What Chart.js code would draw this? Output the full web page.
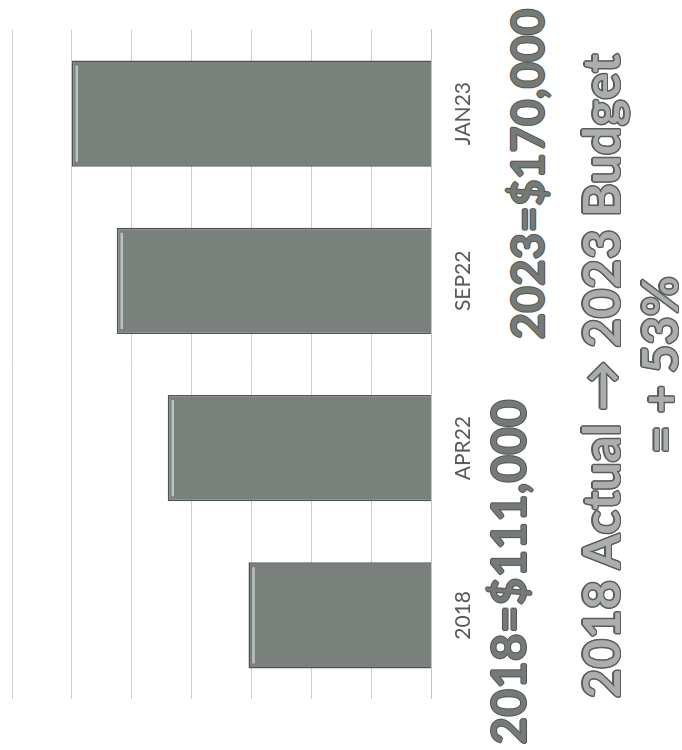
<!DOCTYPE html>
<html>
<head>
<meta charset="utf-8">
<script src="https://cdn.jsdelivr.net/npm/chart.js@4"></script>
<style>
  html, body { margin: 0; padding: 0; background: #fff; width: 682px; height: 750px; overflow: hidden; }
  /* the scan is turned a quarter turn, so draw upright and rotate the whole sheet */
  #sheet { position: absolute; left: 0; top: 0; width: 750px; height: 682px;
           transform-origin: 0 0; transform: translateY(750px) rotate(-90deg); }
  #budgetChart { position: absolute; left: 0; top: 0; }
  .note { position: absolute; white-space: nowrap; font-family: Lato, 'Open Sans', sans-serif;
          font-weight: 700; line-height: 1; transform: translate(-50%, -50%); }
  .amount { font-size: 48px; color: #767a76;
            text-shadow: -1px 0 #535753, 1px 0 #535753, 0 -1px #535753, 0 1px #535753, 0 0 2px #6a6e6a; }
  .summary { font-size: 51px; color: #abaeab;
             text-shadow: -1.5px 0 #5a5e5a, 1.5px 0 #5a5e5a, 0 -1.5px #5a5e5a, 0 1.5px #5a5e5a,
                          -1px -1px #5a5e5a, 1px 1px #5a5e5a, -1px 1px #5a5e5a, 1px -1px #5a5e5a; }
</style>
</head>
<body>
<div id="sheet">
  <canvas id="budgetChart" width="750" height="482"></canvas>
  <div class="note amount" style="left:178px; top:508px;">2018=$111,000</div>
  <div class="note amount" style="left:576px; top:527px; font-size:46px;">2023=$170,000</div>
  <div class="note summary" style="left:374px; top:600px;">2018 Actual → 2023 Budget</div>
  <div class="note summary" style="left:385px; top:659px; font-size:49px;">= + 53%</div>
</div>
<script>
const categories = ['2018', 'APR22', 'SEP22', 'JAN23'];
const budgetValues = [111000, 138000, 155000, 170000];
const axisMin = 50000;
const axisMax = 190000;
const axisStep = 20000;

// light bevel strip near the end of each bar, like the Office 3-D bar style
const bevelPlugin = {
  id: 'bevel',
  afterDatasetsDraw(chart) {
    const ctx = chart.ctx;
    chart.getDatasetMeta(0).data.forEach((bar) => {
      const half = bar.width / 2;
      ctx.save();
      ctx.strokeStyle = 'rgba(215,222,215,0.7)';
      ctx.lineWidth = 2.5;
      ctx.beginPath();
      ctx.moveTo(bar.x - half + 5, bar.y + 5);
      ctx.lineTo(bar.x + half - 5, bar.y + 5);
      ctx.stroke();
      ctx.restore();
    });
  },
};

new Chart(document.getElementById('budgetChart'), {
  type: 'bar',
  data: {
    labels: categories,
    datasets: [{
      label: 'Budget',
      data: budgetValues,
      backgroundColor: '#7a807b',
      borderColor: '#4d524d',
      borderWidth: 1.5,
      categoryPercentage: 1,
      barPercentage: 0.635,
    }],
  },
  options: {
    responsive: false,
    animation: false,
    layout: { padding: { left: 51, right: 30, top: 12, bottom: 0 } },
    plugins: { legend: { display: false }, tooltip: { enabled: false } },
    scales: {
      x: {
        grid: { display: false, drawTicks: false },
        border: { display: true, color: '#c4c4c4', width: 1 },
        ticks: { color: '#595959', padding: 20, font: { family: 'Lato', size: 21 } },
        afterFit: (scale) => { scale.height = 51; },
      },
      y: {
        min: axisMin,
        max: axisMax,
        grid: { color: '#cfcfcf', lineWidth: 1, drawTicks: false },
        border: { display: false },
        ticks: { display: false, stepSize: axisStep },
        afterFit: (scale) => { scale.width = 0; },
      },
    },
  },
  plugins: [bevelPlugin],
});
</script>
</body>
</html>
